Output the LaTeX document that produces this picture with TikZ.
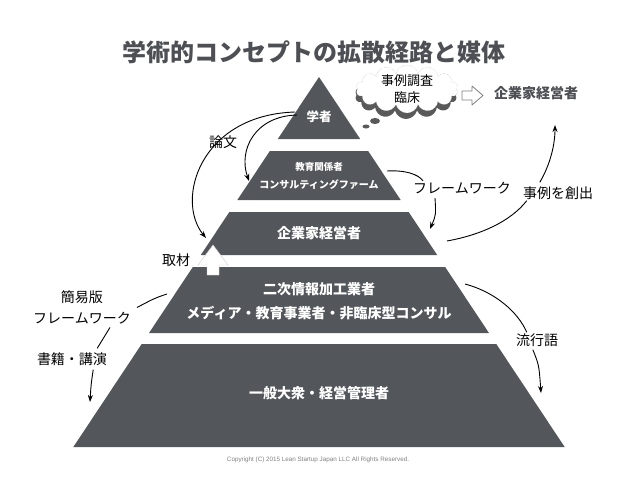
\documentclass[tikz,border=0pt]{standalone}
\usepackage{fontspec}
\newfontfamily\jpfont{Noto Sans CJK JP}
\newfontfamily\latinfont{Liberation Sans}
\usetikzlibrary{shapes.symbols, shadows, arrows.meta}

\definecolor{bandgray}{RGB}{83,86,91}
\definecolor{titlegray}{RGB}{77,79,84}

\begin{document}
\begin{tikzpicture}[x=1pt, y=-1pt,
    band/.style={fill=bandgray},
    bandtext/.style={text=white, inner sep=0pt, font=\jpfont\bfseries\fontsize{#1}{#1}\selectfont},
    lbl/.style={inner sep=1pt, align=center, font=\jpfont\fontsize{14}{21}\selectfont},
    conn/.style={line width=0.9pt, -{Stealth[length=7pt, width=5pt]}},
    link/.style={line width=0.9pt}]

    \useasboundingbox (0,0) rectangle (638,479);

    % title
    \node[font=\jpfont\bfseries\fontsize{24}{24}\selectfont, text=titlegray] (title) at (314,52) {学術的コンセプトの拡散経路と媒体};

    % pyramid bands
    \foreach \t/\b in {77/139, 151/200, 212/255, 267/333, 344/447}
        \fill[band] ({319-0.664*(\t-77)},\t) -- ({319+0.664*(\t-77)},\t)
            -- ({319+0.664*(\b-77)},\b) -- ({319-0.664*(\b-77)},\b) -- cycle;

    \node[bandtext=12.5] (scholar) at (319,117) {学者};
    \node[bandtext=9.5] (educ) at (319,167) {教育関係者};
    \node[bandtext=10] (consult) at (319,185) {コンサルティングファーム};
    \node[bandtext=14] (biz) at (319,233) {企業家経営者};
    \node[bandtext=14] (second) at (319,289) {二次情報加工業者};
    \node[bandtext=14] (media) at (319,313) {メディア・教育事業者・非臨床型コンサル};
    \node[bandtext=14] (public) at (319,393) {一般大衆・経営管理者};

    % thought cloud
    \node[cloud, cloud puffs=14, minimum width=102pt, minimum height=48pt, inner sep=0pt,
        draw=gray!60, densely dotted, fill=white,
        drop shadow={shadow xshift=-1pt, shadow yshift=-6pt, fill=gray!70!black, opacity=1}] (cloud) at (407,89) {};
    \node[align=center, font=\jpfont\fontsize{13}{17}\selectfont] (cloudtext) at (cloud.center) {事例調査\\臨床};
    \fill[gray!70!black] (375,121) ellipse [x radius=5, y radius=3];
    \fill[gray!70!black] (366,126.5) ellipse [x radius=3.5, y radius=2];

    \draw[gray, line width=0.8pt, fill=white, line join=round] (462,91) -- (472,91) -- (472,86)
        -- (483,95.5) -- (472,105) -- (472,100) -- (462,100) -- cycle;
    \node[font=\jpfont\bfseries\fontsize{14}{14}\selectfont, text=titlegray] (bizTop) at (536,93) {企業家経営者};

    % white up arrow
    \filldraw[fill=white, draw=gray!40, line width=0.4pt] (213,245) -- (228,265) -- (219,265)
        -- (219,275) -- (207,275) -- (207,265) -- (198,265) -- cycle;

    % labels
    \node[lbl] (paper) at (223,142) {論文};
    \node[lbl] (press) at (176,260) {取材};
    \node[lbl] (fw) at (462,188) {フレームワーク};
    \node[lbl] (cases) at (558,193) {事例を創出};
    \node[lbl] (buzz) at (537,340) {流行語};
    \node[lbl] (simple) at (82,307.5) {簡易版\\フレームワーク};
    \node[lbl] (books) at (72,359) {書籍・講演};

    \coordinate (scholarL) at (295,112);
    \coordinate (scholarL2) at (297,115);
    \coordinate (educTip) at (249,181);
    \coordinate (bizCorner) at (206,238);
    \coordinate (educR) at (387,171);
    \coordinate (bizR) at (430,229);
    \coordinate (bizR2) at (447,241);
    \coordinate (topTip) at (555,125);
    \coordinate (mediaR) at (465,284);
    \coordinate (publicR) at (541,393);
    \coordinate (mediaL) at (167,294);
    \coordinate (publicL) at (90,402);

    % connectors
    \draw[conn] (scholarL) .. controls (200,115) and (175,200) .. (bizCorner);
    \draw[conn] (scholarL2) .. controls (255,116) and (238,150) .. (educTip);
    \draw[link] (educR) .. controls (405,170) and (418,174) .. ([xshift=11pt]fw.north west);
    \draw[conn] ([xshift=23pt,yshift=-3pt]fw.south west) .. controls (436,215) .. (bizR);
    \draw[link] (bizR2) .. controls (480,235) and (510,222) .. ([xshift=5pt]cases.south west);
    \draw[conn] ([xshift=18pt,yshift=3pt]cases.north west) .. controls (550,165) and (555,145) .. (topTip);
    \draw[link] (mediaR) .. controls (495,292) and (518,312) .. ([xshift=12pt]buzz.north west);
    \draw[conn] ([xshift=18pt,yshift=-2pt]buzz.south west) .. controls (539,365) .. (publicR);
    \draw[link] (mediaL) .. controls (155,298) .. ([xshift=5pt]simple.east);
    \draw[link] ([xshift=-22pt,yshift=-2pt]simple.south east) -- ([xshift=-11pt,yshift=3pt]books.north east);
    \draw[conn] ([xshift=-15pt,yshift=-3pt]books.south east) .. controls (91,385) .. (publicL);

    \node[font=\latinfont\fontsize{6.3}{7}\selectfont, text=gray] (copy) at (318,460)
        {Copyright (C) 2015 Lean Startup Japan LLC All Rights Reserved.};
\end{tikzpicture}
\end{document}
